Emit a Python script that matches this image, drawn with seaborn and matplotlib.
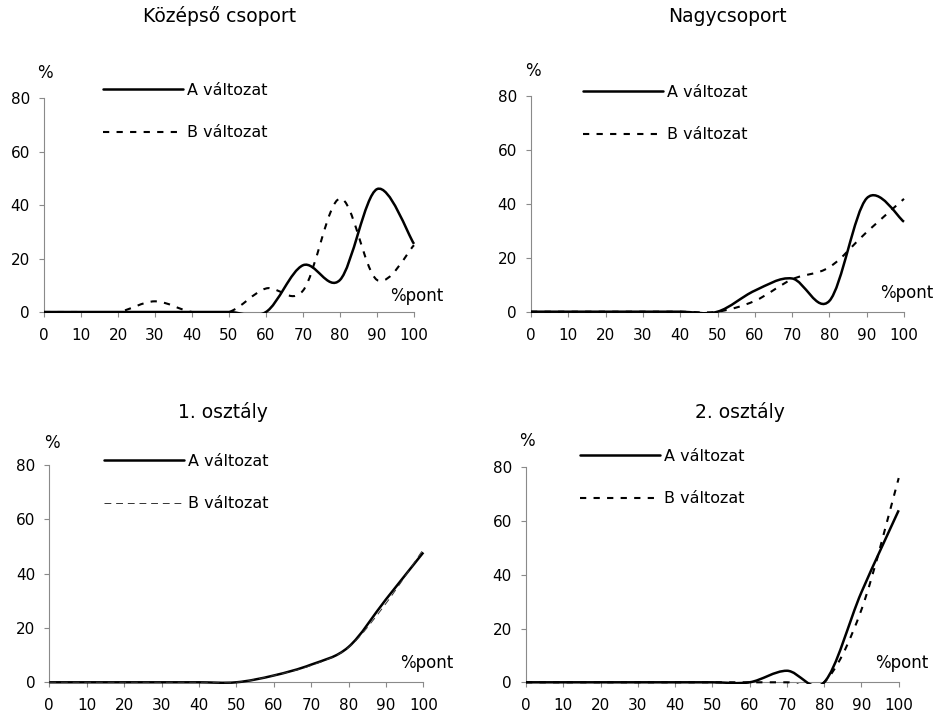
import matplotlib
matplotlib.use("Agg")
import seaborn as sns
import matplotlib.pyplot as plt
from matplotlib.path import Path
from matplotlib.patches import PathPatch, Rectangle

# --- adatok (leolvasva az eredeti ábráról) ---
pont = [0, 10, 20, 30, 40, 50, 60, 70, 80, 90, 100]

kozepso_a = [0, 0, 0, 0, 0, 0, 0, 17.5, 12, 46, 25.5]
kozepso_b = [0, 0, 0, 4, 0, 0, 8.8, 8, 42.5, 12, 25]
nagy_a = [0, 0, 0, 0, 0, 0, 7.8, 12.3, 4, 42, 33.3]
nagy_b = [0, 0, 0, 0, 0, 0, 4, 12, 16.5, 29.5, 41.8]
osztaly1_a = [0, 0, 0, 0, 0, 0, 2.5, 6.5, 13, 30.5, 47.8]
osztaly1_b = [0, 0, 0, 0, 0, 0, 2.5, 6.2, 12.8, 29, 49]
osztaly2_a = [0, 0, 0, 0, 0, 0, 0, 4.3, 0, 33.5, 64]
osztaly2_b = [0, 0, 0, 0, 0, 0, 0, 0, 0, 27, 76]

titles = ["Középső csoport", "Nagycsoport", "1. osztály", "2. osztály"]
series_names = ["A változat", "B változat"]
y_ticks = [0, 20, 40, 60, 80]
x_ticks = pont

sns.set_theme(style="ticks")
plt.rcParams['font.family'] = ['DejaVu Sans']
plt.rcParams['text.color'] = 'black'

W, H = 940, 725
fig = plt.figure(figsize=(W / 100, H / 100), dpi=100)

# pixel layout: (left, right, top, bottom), title, "%", "%pont", legend start
layout = [
    dict(box=(44, 414, 98.3, 312), title=(220, 16), pct=(45, 73), pont=(417, 296), leg=(103, 90)),
    dict(box=(531, 904, 95.7, 311.7), title=(727, 16), pct=(533, 71), pont=(907, 293), leg=(583, 92)),
    dict(box=(49.3, 423.3, 465, 682.3), title=(223, 412), pct=(52, 443), pont=(427, 663), leg=(104, 461)),
    dict(box=(526, 898.7, 467.3, 682.3), title=(740, 412), pct=(527, 441), pont=(902, 663), leg=(580, 456)),
]

a_style = dict(color="black", lw=1.8, ls="-")
b_thick = dict(color="black", lw=1.5, ls=(0, (3, 3.5)))
b_thin = dict(color="#333333", lw=0.7, ls=(0, (7, 5)))

panels = [
    (kozepso_a, kozepso_b, b_thick),
    (nagy_a, nagy_b, b_thick),
    (osztaly1_a, osztaly1_b, b_thin),
    (osztaly2_a, osztaly2_b, b_thick),
]


def smooth_path(xy):
    # Excel-like smoothed line: bezier segments through the data points
    n = len(xy)
    verts = [tuple(xy[0])]
    codes = [Path.MOVETO]
    for i in range(n - 1):
        p0 = xy[max(i - 1, 0)]
        p1 = xy[i]
        p2 = xy[i + 1]
        p3 = xy[min(i + 2, n - 1)]
        c1 = p1 + (p2 - p0) / 6.0
        c2 = p2 - (p3 - p1) / 6.0
        verts += [tuple(c1), tuple(c2), tuple(p2)]
        codes += [Path.CURVE4] * 3
    return Path(verts, codes)


def fx(px):
    return px / W


def fy(py):
    return 1 - py / H


for (vals_a, vals_b, b_style), lay, title in zip(panels, layout, titles):
    l, r, t, b = lay["box"]
    ax = fig.add_axes([fx(l), fy(b), (r - l) / W, (b - t) / H])

    styles = [a_style, b_style]
    for vals, name, st in zip([vals_a, vals_b], series_names, styles):
        sns.lineplot(x=pont, y=vals, ax=ax, errorbar=None, label=name, **st)

    lx, ly = lay["leg"]
    leg = ax.legend(loc="upper left", bbox_to_anchor=(fx(lx), fy(ly - 7)),
                    bbox_transform=fig.transFigure, frameon=False,
                    fontsize=11.5, handlelength=5.0, handletextpad=0.25,
                    labelspacing=1.7, borderpad=0, borderaxespad=0)
    for txt in leg.get_texts():
        txt.set_color("black")

    # replace the straight seaborn lines by smoothed curves
    for line, st in zip(list(ax.lines), styles):
        xy = line.get_xydata()
        line.remove()
        patch = PathPatch(smooth_path(xy), fill=False, edgecolor=st["color"],
                          linewidth=st["lw"], linestyle=st["ls"],
                          joinstyle="round", zorder=3)
        ax.add_patch(patch)
        patch.set_clip_path(Rectangle((-1, -0.5), 102, 95, transform=ax.transData))

    ax.set_xlim(0, 100)
    ax.set_ylim(0, 80)
    ax.set_xticks(x_ticks)
    ax.set_yticks(y_ticks)
    ax.set_xlabel("")
    ax.set_ylabel("")
    sns.despine(ax=ax)
    for s in ["left", "bottom"]:
        ax.spines[s].set_color("#8a8a8a")
        ax.spines[s].set_linewidth(0.8)
    ax.tick_params(axis="both", direction="out", length=3.6, width=0.8,
                   color="#8a8a8a", labelsize=11, labelcolor="black")
    ax.tick_params(axis="x", pad=8)
    ax.tick_params(axis="y", pad=6.5)

    tx, ty = lay["title"]
    fig.text(fx(tx), fy(ty), title, ha="center", va="center", fontsize=13.5)
    px, py = lay["pct"]
    fig.text(fx(px), fy(py), "%", ha="center", va="center", fontsize=12)
    qx, qy = lay["pont"]
    fig.text(fx(qx), fy(qy), "%pont", ha="center", va="center", fontsize=12)

fig.savefig("out.png", dpi=100)
